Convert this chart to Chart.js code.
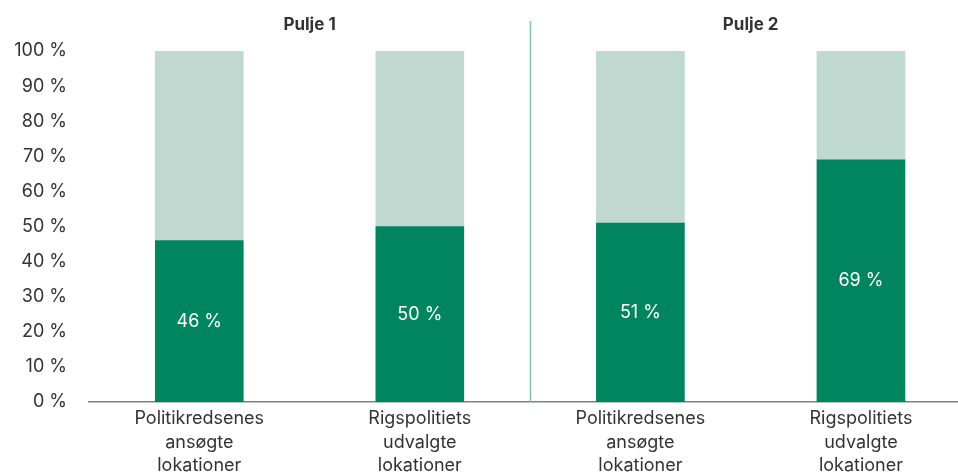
<!DOCTYPE html>
<html>
<head>
<meta charset="utf-8">
<script src="https://cdn.jsdelivr.net/npm/chart.js@4"></script>
<style>
  html, body { margin: 0; padding: 0; background: #ffffff; overflow: hidden; }
  #wrap { width: 958px; height: 473px; position: relative; }
</style>
</head>
<body>
<div id="wrap"><canvas id="chart"></canvas></div>
<script>
// Data
const categories = [
    ['Politikredsenes', 'ansøgte', 'lokationer'],
    ['Rigspolitiets', 'udvalgte', 'lokationer'],
    ['Politikredsenes', 'ansøgte', 'lokationer'],
    ['Rigspolitiets', 'udvalgte', 'lokationer']
];
const groups = ['Pulje 1', 'Pulje 2'];
const shareValues = [46, 50, 51, 69];
const restValues = shareValues.map(v => 100 - v);
const yTicks = [0, 10, 20, 30, 40, 50, 60, 70, 80, 90, 100];

const DARK = '#00855f';
const LIGHT = '#bfd9d0';
const TEXT = '#333333';
const FONT = "'Inter', sans-serif";

Chart.defaults.font.family = FONT;
Chart.defaults.color = TEXT;

// Labels inside the dark bars
const valueLabels = {
    id: 'valueLabels',
    afterDatasetsDraw(chart) {
        const ctx = chart.ctx;
        const meta = chart.getDatasetMeta(0);
        ctx.save();
        ctx.fillStyle = '#ffffff';
        ctx.font = '18px ' + FONT;
        ctx.textAlign = 'center';
        ctx.textBaseline = 'middle';
        meta.data.forEach((bar, i) => {
            ctx.fillText(shareValues[i] + ' %', bar.x, (bar.y + bar.base) / 2);
        });
        ctx.restore();
    }
};

// Group headers and divider
const groupHeaders = {
    id: 'groupHeaders',
    afterDraw(chart) {
        const ctx = chart.ctx;
        const x = chart.scales.x;
        const area = chart.chartArea;
        ctx.save();
        ctx.strokeStyle = '#7fc2aa';
        ctx.lineWidth = 1.5;
        const xd = Math.round(x.getPixelForValue(1.5)) + 0.5;
        ctx.beginPath();
        ctx.moveTo(xd, 21);
        ctx.lineTo(xd, area.bottom);
        ctx.stroke();

        ctx.fillStyle = TEXT;
        ctx.font = 'bold 17px ' + FONT;
        ctx.textAlign = 'center';
        ctx.textBaseline = 'middle';
        groups.forEach((g, i) => {
            ctx.fillText(g, x.getPixelForValue(i * 2 + 0.5), 25);
        });
        ctx.restore();
    }
};

new Chart(document.getElementById('chart'), {
    type: 'bar',
    data: {
        datasets: [{
            data: shareValues.map((v, i) => ({ x: i, y: v })),
            backgroundColor: DARK,
            barThickness: 88
        }, {
            data: restValues.map((v, i) => ({ x: i, y: v })),
            backgroundColor: LIGHT,
            barThickness: 88
        }]
    },
    options: {
        responsive: true,
        maintainAspectRatio: false,
        animation: false,
        layout: { padding: { top: 51, right: 0, left: 0, bottom: 0 } },
        plugins: {
            legend: { display: false },
            tooltip: { enabled: false }
        },
        scales: {
            x: {
                type: 'linear',
                stacked: true,
                offset: false,
                min: -0.5,
                max: 3.44,
                afterBuildTicks: scale => {
                    scale.ticks = categories.map((c, i) => ({ value: i }));
                },
                afterFit: scale => { scale.height = 71; },
                grid: { display: false, drawTicks: false },
                border: { display: true, color: '#808080', width: 1.5 },
                ticks: {
                    padding: 5,
                    autoSkip: false,
                    maxRotation: 0,
                    font: { size: 18, lineHeight: 1.3 },
                    color: TEXT,
                    callback: value => categories[value]
                }
            },
            y: {
                stacked: true,
                min: 0,
                max: 100,
                afterBuildTicks: scale => {
                    scale.ticks = yTicks.map(v => ({ value: v }));
                },
                afterFit: scale => { scale.width = 89; },
                grid: { display: false, drawTicks: false },
                border: { display: false },
                ticks: {
                    padding: 22,
                    font: { size: 18 },
                    color: TEXT,
                    callback: value => value + ' %'
                }
            }
        }
    },
    plugins: [valueLabels, groupHeaders]
});
</script>
</body>
</html>
